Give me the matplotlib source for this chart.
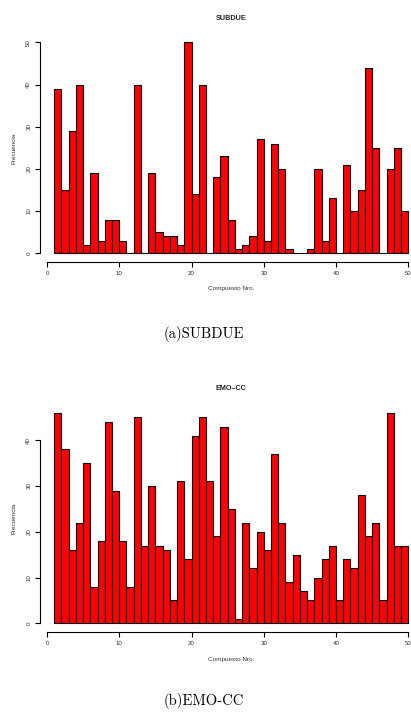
import matplotlib
matplotlib.use("Agg")
import matplotlib.pyplot as plt
import numpy as np

compounds = list(range(1, 50))
subdue = [39, 15, 29, 40, 2, 19, 3, 8, 8, 3, 0, 40, 0, 19, 5, 4, 4, 2, 50, 14,
          40, 0, 18, 23, 8, 1, 2, 4, 27, 3, 26, 20, 1, 0, 0, 1, 20, 3, 13, 0,
          21, 10, 15, 44, 25, 0, 20, 25, 10]
emocc = [46, 38, 16, 22, 35, 8, 18, 44, 29, 18, 8, 45, 17, 30, 17, 16, 5, 31, 14, 41,
         45, 31, 19, 43, 25, 1, 22, 12, 20, 16, 37, 22, 9, 15, 7, 5, 10, 14, 17, 5,
         14, 12, 28, 19, 22, 5, 46, 17, 17]
x_ticks = [0, 10, 20, 30, 40, 50]
y_ticks_a = [0, 10, 20, 30, 40, 50]
y_ticks_b = [0, 10, 20, 30, 40]

W, H = 411, 718
fig = plt.figure(figsize=(W / 100, H / 100), dpi=100)
plt.rcParams['font.family'] = ['Liberation Sans', 'DejaVu Sans']

def px_axes(left, top, right, bottom):
    return fig.add_axes([left / W, 1 - bottom / H, (right - left) / W, (bottom - top) / H])

def panel(ax, vals, yticks, ylim, title, title_y, xlab_y, ylab_y, cap, cap_y):
    ax.bar(compounds, vals, width=1.0, align='edge', color='#ff0000',
           edgecolor='black', linewidth=0.8)
    ax.set_xlim(-0.93, 50.38)
    ax.set_ylim(*ylim)
    for s in ['top', 'right']:
        ax.spines[s].set_visible(False)
    ax.spines['left'].set_bounds(yticks[0], yticks[-1])
    ax.spines['bottom'].set_bounds(0, 50)
    ax.spines['left'].set_linewidth(0.8)
    ax.spines['bottom'].set_linewidth(0.8)
    ax.set_xticks(x_ticks)
    ax.set_yticks(yticks)
    ax.tick_params(axis='both', direction='out', length=3.5, width=0.8,
                   labelsize=4.4, pad=3, colors='black', labelcolor='#333333')
    for lab in ax.get_yticklabels():
        lab.set_rotation(90)
        lab.set_va('center')
    fig.text(231 / W, 1 - title_y / H, title, ha='center', va='center',
             fontsize=5.2, fontweight='bold', color='#222222')
    fig.text(231 / W, 1 - xlab_y / H, 'Compuesto Nro.', ha='center', va='center',
             fontsize=4.6, color='#333333')
    fig.text(14 / W, 1 - ylab_y / H, 'Frecuencia', ha='center', va='center',
             fontsize=4.6, rotation=90, color='#333333')
    fig.text(204 / W, 1 - cap_y / H, cap, ha='center', va='baseline',
             fontsize=10.5, family='cmr10')

ax1 = px_axes(40.3, 33.9, 411, 261.7)
panel(ax1, subdue, y_ticks_a, (-2, 52), 'SUBDUE', 18.3, 289, 148, '(a)SUBDUE', 338.5)

ax2 = px_axes(40.3, 404.4, 411, 631.7)
panel(ax2, emocc, y_ticks_b, (-1.84, 47.84), 'EMO\u2013CC', 388.3, 659, 518, '(b)EMO-CC', 705)

fig.savefig('out.png', dpi=100)
